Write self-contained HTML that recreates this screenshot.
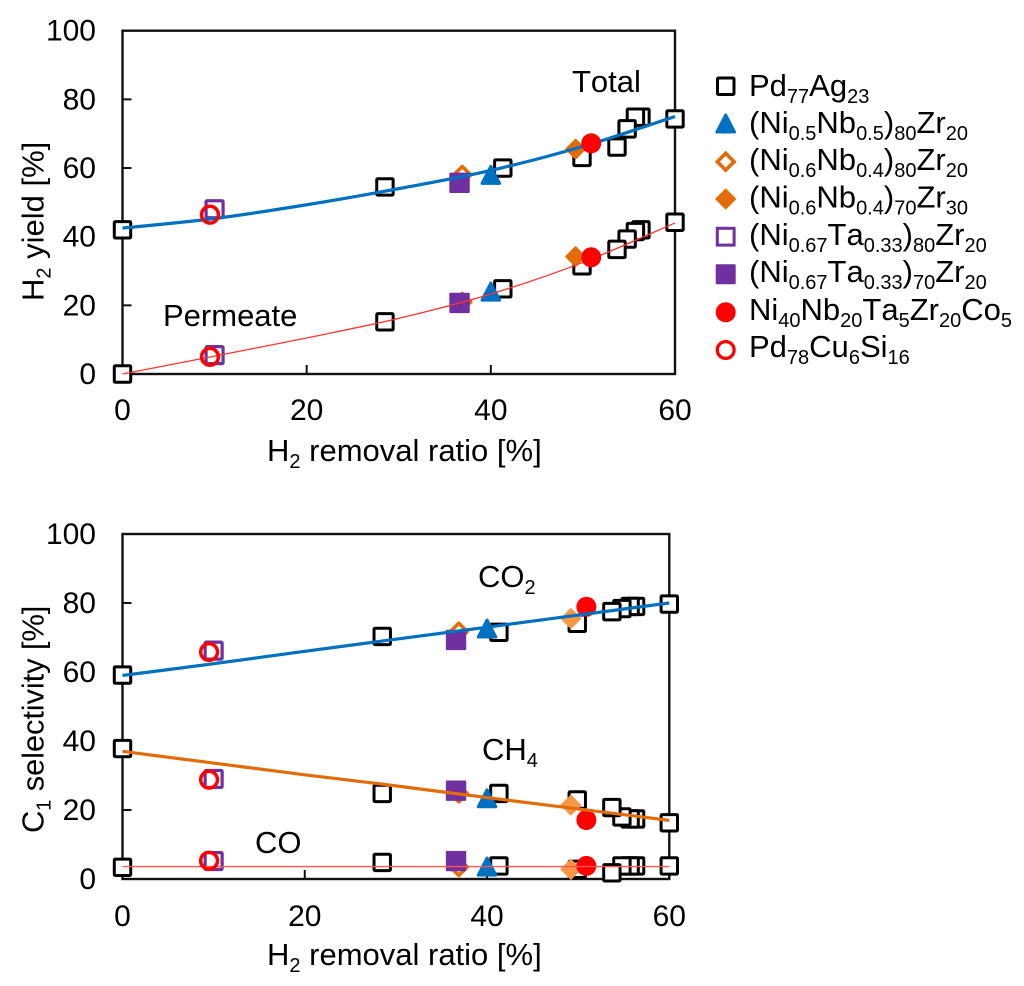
<!DOCTYPE html>
<html lang="en">
<head>
<meta charset="utf-8">
<title>H2 yield and C1 selectivity versus H2 removal ratio</title>
<style>
html,body{margin:0;padding:0;background:#fff;}
svg{display:block;}
text{font-family:"Liberation Sans",Arial,sans-serif;fill:#000;font-kerning:none;}
.t{font-size:30px;}
.a{font-size:31px;}
.l{font-size:31px;}
.s{font-size:20px;}
</style>
</head>
<body>
<svg id="fig" width="1024" height="986" viewBox="0 0 1024 986" xmlns="http://www.w3.org/2000/svg">
  <rect width="1024" height="986" fill="#fff"/>
  <g id="top-chart"></g>
  <g id="bottom-chart"></g>

  <text class="a" x="267" y="461">H<tspan class="s" dy="7">2</tspan><tspan dy="-7"> removal ratio [%]</tspan></text>
  <text class="a" transform="translate(43.5,301) rotate(-90)">H<tspan class="s" dy="7">2</tspan><tspan dy="-7"> yield [%]</tspan></text>
  <text class="a" x="572" y="92">Total</text>
  <text class="a" x="163" y="326">Permeate</text>

  <text class="a" x="267" y="965">H<tspan class="s" dy="7">2</tspan><tspan dy="-7"> removal ratio [%]</tspan></text>
  <text class="a" letter-spacing="-0.15" transform="translate(43.5,833) rotate(-90)">C<tspan class="s" dy="7">1</tspan><tspan dy="-7"> selectivity [%]</tspan></text>
  <text class="a" x="478" y="587">CO<tspan class="s" dy="7">2</tspan></text>
  <text class="a" x="482" y="760">CH<tspan class="s" dy="7">4</tspan></text>
  <text class="a" x="255" y="853">CO</text>

  <g id="legend">
    <rect x="717.5" y="78" width="16.5" height="16.5" rx="1" fill="#fff" stroke="#000" stroke-width="3"/>
    <path d="M725.7 115 L734.5 132 L716.9 132 Z" fill="#0070C0" stroke="#0070C0" stroke-width="3" stroke-linejoin="round"/>
    <path d="M725.7 153.3 L734.1 161.7 L725.7 170.1 L717.3 161.7 Z" fill="#fff" stroke="#E36C0A" stroke-width="3.6"/>
    <path d="M725.7 189 L735.7 199 L725.7 209 L715.7 199 Z" fill="#E36C0A" stroke="#E36C0A" stroke-width="1" stroke-linejoin="round"/>
    <rect x="717.3" y="228.3" width="16.8" height="16.8" fill="#fff" stroke="#7030A0" stroke-width="3"/>
    <rect x="715.7" y="264.3" width="20" height="20" rx="1" fill="#7030A0"/>
    <circle cx="725.7" cy="312.3" r="10" fill="#f00"/>
    <circle cx="725.7" cy="350" r="8.4" fill="#fff" stroke="#f00" stroke-width="3.3"/>

    <text class="l" x="749" y="96">Pd<tspan class="s" dy="7">77</tspan><tspan dy="-7">Ag</tspan><tspan class="s" dy="7">23</tspan></text>
    <text class="l" x="749" y="133">(Ni<tspan class="s" dy="7">0.5</tspan><tspan dy="-7">Nb</tspan><tspan class="s" dy="7">0.5</tspan><tspan dy="-7">)</tspan><tspan class="s" dy="7">80</tspan><tspan dy="-7">Zr</tspan><tspan class="s" dy="7">20</tspan></text>
    <text class="l" x="749" y="170">(Ni<tspan class="s" dy="7">0.6</tspan><tspan dy="-7">Nb</tspan><tspan class="s" dy="7">0.4</tspan><tspan dy="-7">)</tspan><tspan class="s" dy="7">80</tspan><tspan dy="-7">Zr</tspan><tspan class="s" dy="7">20</tspan></text>
    <text class="l" x="749" y="207.5">(Ni<tspan class="s" dy="7">0.6</tspan><tspan dy="-7">Nb</tspan><tspan class="s" dy="7">0.4</tspan><tspan dy="-7">)</tspan><tspan class="s" dy="7">70</tspan><tspan dy="-7">Zr</tspan><tspan class="s" dy="7">30</tspan></text>
    <text class="l" x="749" y="245">(Ni<tspan class="s" dy="7">0.67</tspan><tspan dy="-7">Ta</tspan><tspan class="s" dy="7">0.33</tspan><tspan dy="-7">)</tspan><tspan class="s" dy="7">80</tspan><tspan dy="-7">Zr</tspan><tspan class="s" dy="7">20</tspan></text>
    <text class="l" x="749" y="282">(Ni<tspan class="s" dy="7">0.67</tspan><tspan dy="-7">Ta</tspan><tspan class="s" dy="7">0.33</tspan><tspan dy="-7">)</tspan><tspan class="s" dy="7">70</tspan><tspan dy="-7">Zr</tspan><tspan class="s" dy="7">20</tspan></text>
    <text class="l" x="749" y="320">Ni<tspan class="s" dy="7">40</tspan><tspan dy="-7">Nb</tspan><tspan class="s" dy="7">20</tspan><tspan dy="-7">Ta</tspan><tspan class="s" dy="7">5</tspan><tspan dy="-7">Zr</tspan><tspan class="s" dy="7">20</tspan><tspan dy="-7">Co</tspan><tspan class="s" dy="7">5</tspan></text>
    <text class="l" x="749" y="357">Pd<tspan class="s" dy="7">78</tspan><tspan dy="-7">Cu</tspan><tspan class="s" dy="7">6</tspan><tspan dy="-7">Si</tspan><tspan class="s" dy="7">16</tspan></text>
  </g>
</svg>
<script>
// Tick labels
const xTicks = [0, 20, 40, 60];
const yTicks = [0, 20, 40, 60, 80, 100];

// H2 removal ratio [%] per membrane
const xPdAg = [0, 28.5, 41.3, 49.9, 53.7, 54.8, 55.7, 56.3, 60];
const xNiNb55 = [40];
const xNiNb64o = [36.9];
const xNiNb64f = [49.2];
const xNiTaOpen = [10];
const xNiTaFill = [36.6];
const xRedFill = [50.9];
const xRedOpen = [9.5];

// H2 yield: total
const totalPdAg = [42, 54.5, 60, 63.1, 66.1, 71.4, 74.8, 74.8, 74.3];
const totalNiNb55 = [58];
const totalNiNb64o = [58];
const totalNiNb64f = [65.5];
const totalNiTaOpen = [48];
const totalNiTaFill = [55.7];
const totalRedFill = [67.2];
const totalRedOpen = [46.4];

// H2 yield: permeate
const permPdAg = [0, 15.2, 24.8, 31.5, 36.3, 39.3, 41.5, 42, 44.2];
const permNiNb55 = [24];
const permNiNb64o = [21];
const permNiNb64f = [34.2];
const permNiTaOpen = [5.5];
const permNiTaFill = [20.7];
const permRedFill = [34];
const permRedOpen = [5];

// C1 selectivity: CO2
const co2PdAg = [59.1, 70.3, 71.5, 74.1, 77.5, 78.4, 79, 79, 79.7];
const co2NiNb55 = [72.6];
const co2NiNb64o = [71.7];
const co2NiNb64f = [75.5];
const co2NiTaOpen = [66.2];
const co2NiTaFill = [69.3];
const co2RedFill = [78.9];
const co2RedOpen = [65.8];

// C1 selectivity: CH4
const ch4PdAg = [37.8, 24.8, 24.8, 22.9, 20.7, 18, 17.4, 17.4, 16.3];
const ch4NiNb55 = [23.4];
const ch4NiNb64o = [24.8];
const ch4NiNb64f = [21.4];
const ch4NiTaOpen = [29];
const ch4NiTaFill = [25.6];
const ch4RedFill = [17.1];
const ch4RedOpen = [28.8];

// C1 selectivity: CO
const coPdAg = [3.4, 4.8, 3.8, 2.8, 1.8, 3.8, 3.8, 3.8, 3.8];
const coNiNb55 = [3.6];
const coNiNb64o = [3.5];
const coNiNb64f = [2.8];
const coNiTaOpen = [5.2];
const coNiTaFill = [5.2];
const coRedFill = [3.8];
const coRedOpen = [5.3];

// Fitted trend lines
const fitX = [0, 10, 20, 30, 40, 50, 60];
const fitTotal = [42.5, 45.3, 49.3, 54, 59.3, 66.3, 75];
const fitPermeate = [0, 5.2, 10.5, 16.2, 23.3, 32.5, 44];
const fitCO2 = [59, 62.4, 66, 69.5, 73, 76.5, 80];
const fitCH4 = [37, 33.6, 30.2, 27, 23.6, 20.3, 17];
const fitCO = [3.6, 3.6, 3.6, 3.6, 3.6, 3.6, 3.6];

const NS = 'http://www.w3.org/2000/svg';

function mk(parent, tag, attrs) {
  const el = document.createElementNS(NS, tag);
  for (const k in attrs) el.setAttribute(k, attrs[k]);
  parent.appendChild(el);
  return el;
}

function makeAxes(x0, x1, yTop, yBottom) {
  return {
    x0: x0, x1: x1, yTop: yTop, yBottom: yBottom,
    sx: function (v) { return x0 + (x1 - x0) * v / 60; },
    sy: function (v) { return yBottom - (yBottom - yTop) * v / 100; }
  };
}

function drawFrame(g, a, xLabelBase) {
  const frame = mk(g, 'rect', {x: a.x0, y: a.yTop, width: a.x1 - a.x0, height: a.yBottom - a.yTop, fill: 'none', stroke: '#111', 'stroke-width': 2.4});
  
  
  xTicks.forEach(function (v) {
    const x = a.sx(v);
    if (v > 0 && v < 60) {
      const tick = mk(g, 'line', {x1: x, x2: x, y1: a.yBottom, y2: a.yBottom - 9, stroke: '#111', 'stroke-width': 2});
      
      
    }
    const label = mk(g, 'text', {x: x, y: xLabelBase, 'text-anchor': 'middle', 'class': 't'});
    
    
    label.textContent = v;
  });
  yTicks.forEach(function (v) {
    const y = a.sy(v);
    if (v > 0 && v < 100) {
      const tick = mk(g, 'line', {x1: a.x0, x2: a.x0 + 9, y1: y, y2: y, stroke: '#111', 'stroke-width': 2});
      
      
    }
    const label = mk(g, 'text', {x: 96, y: y + 10, 'text-anchor': 'end', 'class': 't'});
    
    
    label.textContent = v;
  });
}

function drawSquares(g, a, xs, ys) {
  for (let i = xs.length - 1; i >= 0; i--) {
    const s = mk(g, 'rect', {x: a.sx(xs[i]) - 8.2, y: a.sy(ys[i]) - 8.2, width: 16.4, height: 16.4, rx: 1, fill: '#fff', stroke: '#000', 'stroke-width': 3});
    
    
  }
}

function drawTriangle(g, a, xs, ys) {
  xs.forEach(function (v, i) {
    const cx = a.sx(v), cy = a.sy(ys[i]);
    const d = 'M' + cx + ' ' + (cy - 8.5) + ' L' + (cx + 8.8) + ' ' + (cy + 8.5) + ' L' + (cx - 8.8) + ' ' + (cy + 8.5) + ' Z';
    const m = mk(g, 'path', {d: d, fill: '#0070C0', stroke: '#0070C0', 'stroke-width': 3, 'stroke-linejoin': 'round'});
    
    
  });
}

function drawDiamond(g, a, xs, ys, r, fill, stroke, sw, name) {
  xs.forEach(function (v, i) {
    const cx = a.sx(v), cy = a.sy(ys[i]);
    const d = 'M' + cx + ' ' + (cy - r) + ' L' + (cx + r) + ' ' + cy + ' L' + cx + ' ' + (cy + r) + ' L' + (cx - r) + ' ' + cy + ' Z';
    const m = mk(g, 'path', {d: d, fill: fill, stroke: stroke, 'stroke-width': sw, 'stroke-linejoin': 'round'});
    
    
  });
}

function drawPurple(g, a, xs, ys, filled) {
  xs.forEach(function (v, i) {
    const cx = a.sx(v), cy = a.sy(ys[i]);
    const r = filled ? 10.2 : 8.5;
    const m = mk(g, 'rect', {x: cx - r, y: cy - r, width: r * 2, height: r * 2, rx: 1, fill: filled ? '#7030A0' : '#fff', stroke: filled ? 'none' : '#7030A0', 'stroke-width': 3.2});
    
    
  });
}

function drawCircle(g, a, xs, ys, filled) {
  xs.forEach(function (v, i) {
    const m = mk(g, 'circle', {cx: a.sx(v), cy: a.sy(ys[i]), r: filled ? 10 : 8.4, fill: filled ? '#f00' : 'none', stroke: filled ? 'none' : '#f00', 'stroke-width': 3.5});
    
    
  });
}

function drawFit(g, a, ys, color, width, name) {
  // Catmull-Rom through the read-off values for a smooth curve
  const p = fitX.map(function (v, i) { return [a.sx(v), a.sy(ys[i])]; });
  let d = 'M' + p[0][0] + ' ' + p[0][1];
  for (let i = 0; i < p.length - 1; i++) {
    const p0 = p[Math.max(i - 1, 0)], p1 = p[i], p2 = p[i + 1], p3 = p[Math.min(i + 2, p.length - 1)];
    d += ' C' + (p1[0] + (p2[0] - p0[0]) / 6) + ' ' + (p1[1] + (p2[1] - p0[1]) / 6) + ' ' +
      (p2[0] - (p3[0] - p1[0]) / 6) + ' ' + (p2[1] - (p3[1] - p1[1]) / 6) + ' ' + p2[0] + ' ' + p2[1];
  }
  const line = mk(g, 'path', {d: d, fill: 'none', stroke: color, 'stroke-width': width});
  
  
}

const topAxes = makeAxes(122.5, 675, 30.7, 374);
const botAxes = makeAxes(122.5, 669.3, 534, 879);
const topG = document.getElementById('top-chart');
const botG = document.getElementById('bottom-chart');

drawFrame(topG, topAxes, 420);
drawFrame(botG, botAxes, 926);

// Top chart marks
[totalPdAg, permPdAg].forEach(function (s) { drawSquares(topG, topAxes, xPdAg, s); });
[totalNiTaOpen, permNiTaOpen].forEach(function (s) { drawPurple(topG, topAxes, xNiTaOpen, s, false); });
[totalNiNb64o, permNiNb64o].forEach(function (s) { drawDiamond(topG, topAxes, xNiNb64o, s, 8.4, '#fff', '#E36C0A', 3.6, 'ni06nb04-80-point'); });
[totalNiNb64f, permNiNb64f].forEach(function (s) { drawDiamond(topG, topAxes, xNiNb64f, s, 10, '#E36C0A', '#E36C0A', 1, 'ni06nb04-70-point'); });
[totalNiTaFill, permNiTaFill].forEach(function (s) { drawPurple(topG, topAxes, xNiTaFill, s, true); });
[totalNiNb55, permNiNb55].forEach(function (s) { drawTriangle(topG, topAxes, xNiNb55, s); });
drawFit(topG, topAxes, fitTotal, '#0070C0', 3.2, 'total-fit-line');
drawFit(topG, topAxes, fitPermeate, '#f33', 1.3, 'permeate-fit-line');
[totalRedFill, permRedFill].forEach(function (s) { drawCircle(topG, topAxes, xRedFill, s, true); });
[totalRedOpen, permRedOpen].forEach(function (s) { drawCircle(topG, topAxes, xRedOpen, s, false); });

// Bottom chart marks
[co2PdAg, ch4PdAg, coPdAg].forEach(function (s) { drawSquares(botG, botAxes, xPdAg, s); });
[co2NiTaOpen, ch4NiTaOpen, coNiTaOpen].forEach(function (s) { drawPurple(botG, botAxes, xNiTaOpen, s, false); });
[co2NiNb64o, ch4NiNb64o, coNiNb64o].forEach(function (s) { drawDiamond(botG, botAxes, xNiNb64o, s, 8.4, '#fff', '#E36C0A', 3.6, 'ni06nb04-80-point'); });
[co2NiNb64f, ch4NiNb64f, coNiNb64f].forEach(function (s) { drawDiamond(botG, botAxes, xNiNb64f, s, 10, '#F79646', '#F79646', 1, 'ni06nb04-70-point'); });
[co2NiTaFill, ch4NiTaFill, coNiTaFill].forEach(function (s) { drawPurple(botG, botAxes, xNiTaFill, s, true); });
[co2NiNb55, ch4NiNb55, coNiNb55].forEach(function (s) { drawTriangle(botG, botAxes, xNiNb55, s); });
[co2RedFill, ch4RedFill, coRedFill].forEach(function (s) { drawCircle(botG, botAxes, xRedFill, s, true); });
drawFit(botG, botAxes, fitCO2, '#0070C0', 3.2, 'co2-fit-line');
drawFit(botG, botAxes, fitCH4, '#E36C0A', 3.2, 'ch4-fit-line');
drawFit(botG, botAxes, fitCO, '#f55', 1.3, 'co-fit-line');
[co2RedOpen, ch4RedOpen, coRedOpen].forEach(function (s) { drawCircle(botG, botAxes, xRedOpen, s, false); });
</script>
</body>
</html>
